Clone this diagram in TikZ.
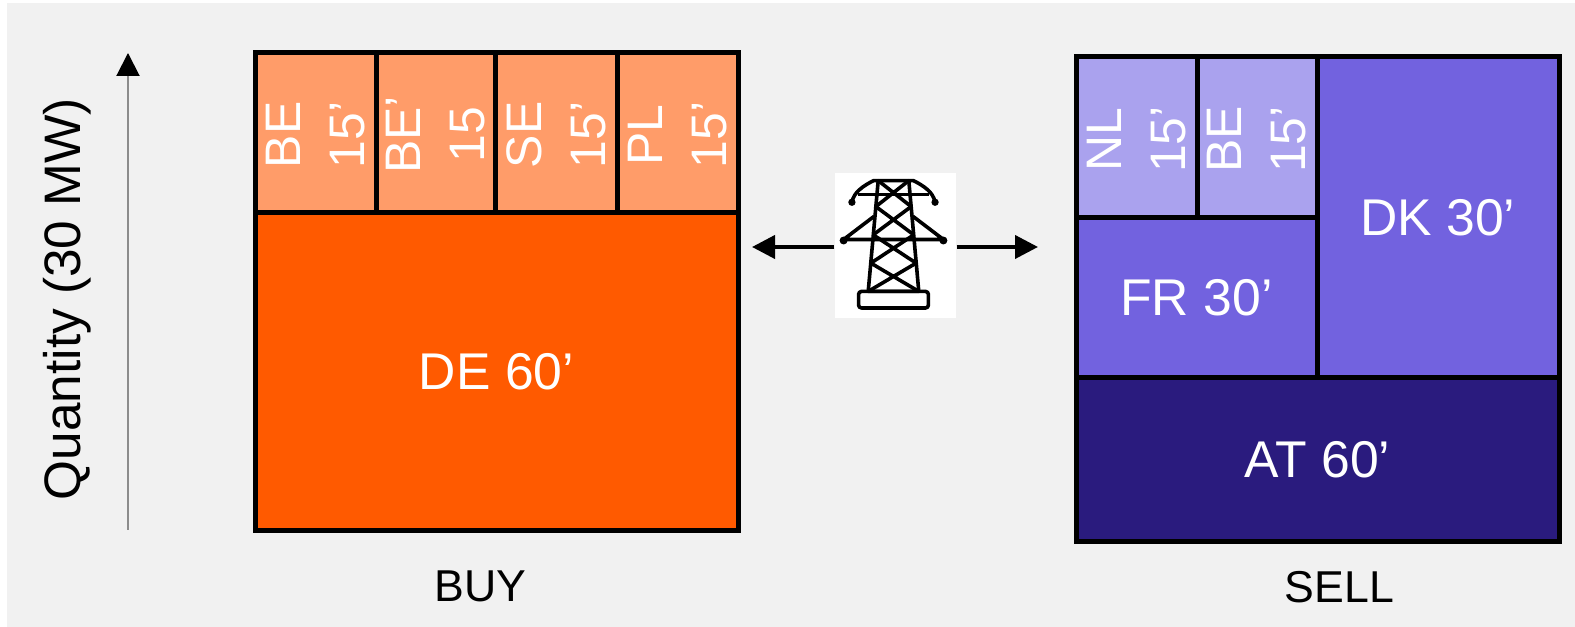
\documentclass[tikz,border=0pt]{standalone}
\usepackage{fontspec}
\setmainfont{Liberation Sans}
\usetikzlibrary{arrows.meta, positioning}

\begin{document}
\begin{tikzpicture}[
        block/.style={draw=black, line width=0.05cm, inner sep=0pt, outer sep=0pt, text=white, font=\fontsize{14.7}{18}\selectfont},
        buylong/.style={block, fill=buyfull},
        buyshort/.style={block, fill=buylight, minimum height=1.60cm},
        selllong/.style={block, fill=sellfull},
        sellmid/.style={block, fill=sellmedium},
        sellshort/.style={block, fill=selllight, minimum height=1.61cm},
        celltext/.style={rotate=90, align=center, text=white, inner sep=0pt, xshift=-0.02cm, font=\fontsize{14.2}{18.2}\selectfont},
        sidetext/.style={inner sep=0pt, font=\fontsize{12.7}{15}\selectfont},
        flow/.style={-{Triangle[length=0.23cm, width=0.23cm]}, line width=0.04cm},
        pylon/.style={line width=0.036cm, line join=round}
    ]
        \definecolor{backdrop}{HTML}{F1F1F1}
        \definecolor{buyfull}{HTML}{FF5A00}
        \definecolor{buylight}{HTML}{FF9C69}
        \definecolor{sellfull}{HTML}{2A1B7E}
        \definecolor{sellmedium}{HTML}{7262DF}
        \definecolor{selllight}{HTML}{AAA2EE}
        \useasboundingbox (0,0) rectangle (15.75,6.27);
        \fill[backdrop] (0.07,0) rectangle (15.75,6.24);

        % buy side
        \node[buylong, minimum width=4.83cm, minimum height=3.18cm, anchor=south west] (de) at (2.55,0.96) {DE 60’};
        \node[buyshort, minimum width=1.21cm, anchor=south west] (bea) at (de.north west) {};
        \node[buyshort, minimum width=1.19cm, right=0pt of bea] (beb) {};
        \node[buyshort, minimum width=1.22cm, right=0pt of beb] (se) {};
        \node[buyshort, minimum width=1.21cm, right=0pt of se] (pl) {};
        \node[celltext] (tbea) at (bea) {BE\\15’};
        \node[celltext] (tbeb) at (beb) {BE’\\15};
        \node[celltext] (tse) at (se) {SE\\15’};
        \node[celltext] (tpl) at (pl) {PL\\15’};
        \node[sidetext, below=0.39cm of de, xshift=-0.16cm] (buy) {BUY};

        % sell side
        \node[selllong, minimum width=4.83cm, minimum height=1.64cm, anchor=south west] (at) at (10.76,0.85) {AT 60’};
        \node[sellmid, minimum width=2.41cm, minimum height=1.60cm, anchor=south west] (fr) at (at.north west) {FR 30’};
        \node[sellshort, minimum width=1.21cm, anchor=south west] (nl) at (fr.north west) {};
        \node[sellshort, minimum width=1.20cm, right=0pt of nl] (bes) {};
        \node[sellmid, minimum width=2.42cm, minimum height=3.21cm, anchor=south east] (dk) at (at.north east) {DK 30’};
        \node[celltext] (tnl) at (nl) {NL\\15’};
        \node[celltext] (tbes) at (bes) {BE\\15’};
        \node[sidetext, below=0.29cm of at, xshift=0.22cm] (sell) {SELL};

        % tower with the two arrows
        \node[fill=white, inner sep=0pt, minimum width=1.21cm, minimum height=1.45cm] (tower) at (8.955,3.815) {};
        \coordinate (buyend) at (7.52,3.80);
        \coordinate (sellend) at (10.38,3.80);
        \draw[flow] (buyend -| tower.west) -- (buyend);
        \draw[flow] (sellend -| tower.east) -- (sellend);
        \begin{scope}[shift={(tower.center)}, xshift=-0.02cm, x=0.00333cm, y=-0.00333cm, pylon]
            \draw (-76,138) -- (-46,-195) -- (46,-195) -- (76,138) -- cycle;
            \draw (-46,-195) -- (-60,-195) .. controls (-90,-180) and (-120,-160) .. (-125,-130);
            \draw (46,-195) -- (60,-195) .. controls (90,-180) and (120,-160) .. (125,-130);
            \draw (-107,-153) -- (107,-153);
            \draw (-58,-88) -- (-150,-18) -- (150,-18) -- (58,-88);
            \fill (-125,-130) circle (11);
            \fill (125,-130) circle (11);
            \fill (-150,-15) circle (12);
            \fill (150,-15) circle (12);
            \draw (-46,-195) -- (53,-117) (46,-195) -- (-53,-117);
            \draw (-53,-117) -- (61,-32) (53,-117) -- (-61,-32);
            \draw (-61,-32) -- (68,53) (61,-32) -- (-68,53);
            \draw (-68,53) -- (76,138) (68,53) -- (-76,138);
            \draw[rounded corners=0.03cm] (-105,138) rectangle (105,188);
        \end{scope}

        % quantity axis
        \coordinate (axisfoot) at (1.28,0.97);
        \coordinate (axishead) at (1.28,5.74);
        \draw[draw=black!45, line width=0.02cm, -{Triangle[length=0.23cm, width=0.23cm, color=black]}] (axisfoot) -- (axishead);
        \node[rotate=90, inner sep=0pt, font=\fontsize{14.6}{18}\selectfont] (qty) at (0.67,3.28) {Quantity (30 MW)};
    \end{tikzpicture}
\end{document}
